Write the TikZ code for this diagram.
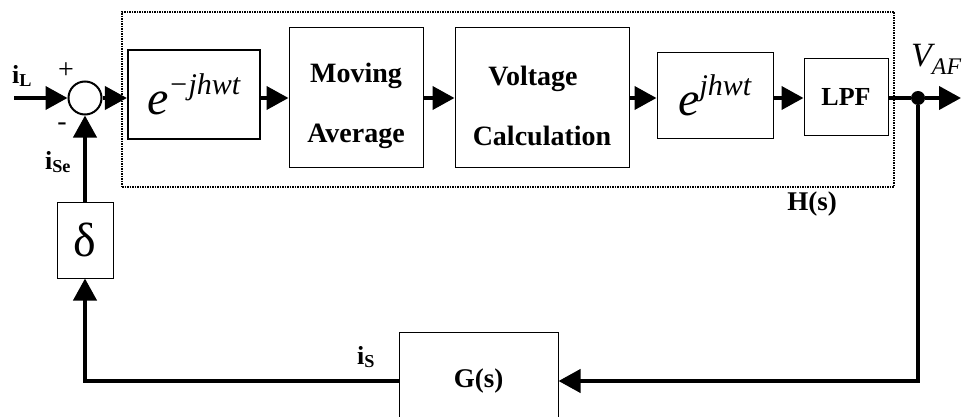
\documentclass[tikz,border=0pt]{standalone}
\usepackage{fontspec}
\setmainfont{Liberation Serif}
\usetikzlibrary{arrows.meta}

\tikzset{
  blk/.style={draw, line width=1pt, inner sep=0pt},
  sig/.style={line width=4pt, -{Triangle[length=22pt,width=23pt]}},
  wire/.style={line width=4pt},
  lbl/.style={inner sep=0pt, font=\fontsize{26}{26}\selectfont},
  bigtxt/.style={font=\fontsize{28}{60}\selectfont\bfseries, align=center},
}
\newcommand{\expo}[1]{\fontsize{48}{48}\selectfont\textit{e}\raisebox{20pt}{\fontsize{30}{30}\selectfont\textit{#1}}}

\begin{document}
\begin{tikzpicture}[x=1pt, y=-1pt]
  \useasboundingbox (0,0) rectangle (965,417);
  % H(s) frame
  \node[draw, dash pattern=on 1.5pt off 1pt, line width=1.8pt, minimum width=772pt, minimum height=175pt] (hframe) at (508,99.5) {};
  \node[lbl, font=\fontsize{27}{27}\selectfont\bfseries] (hlab) at (812,204) {H(s)};

  % summing point and forward path
  \node[circle, draw, line width=2pt, minimum size=33pt, inner sep=0pt] (sum) at (85,98) {};
  \node[blk, line width=2.2pt, minimum width=132pt, minimum height=89pt] (demod) at (194,94.5) {\expo{\symbol{"2212}jhwt}};
  \node[blk, bigtxt, minimum width=134pt, minimum height=139pt] (mavg) at (356,97.5) {\rule{0pt}{36pt}Moving\\Average};
  \node[blk, bigtxt, minimum width=174pt, minimum height=139pt] (vcalc) at (542,97.5) {\rule{0pt}{36pt}Voltage\hspace*{18pt}\\Calculation};
  \node[blk, minimum width=116pt, minimum height=85pt] (mod) at (715,95.5) {\expo{jhwt}};
  \node[blk, minimum width=84pt, minimum height=76pt, font=\fontsize{26}{26}\selectfont\bfseries] (lpf) at (846,97) {LPF};
  \node[circle, fill, inner sep=0pt, minimum size=14pt] (tap) at (918,98) {};

  % feedback path
  \node[blk, minimum width=56pt, minimum height=76pt, font=\fontsize{48}{48}\selectfont] (delta) at (85,240) {\symbol{"03B4}};
  \node[blk, minimum width=159pt, minimum height=98pt, font=\fontsize{27}{27}\selectfont\bfseries] (gs) at (478.5,381) {\raisebox{4pt}{G(s)}};

  \coordinate (iin) at (14,98);
  \coordinate (vout) at (961,98);

  % signals
  \draw[sig] (iin) -- (sum.west);
  \draw[sig] (sum.east) -- (sum.east -| demod.west);
  \foreach \a/\b in {demod/mavg, mavg/vcalc, vcalc/mod, mod/lpf}
    \draw[sig] (\a.east |- sum) -- (\b.west |- sum);
  \draw[wire] (lpf.east |- sum) -- (tap);
  \draw[sig] (tap) -- (vout);
  \draw[sig] (tap) |- (gs.east);
  \draw[sig] (gs.west) -| (delta.south);
  \draw[sig] (delta.north) -- (sum.south);

  % labels
  \node[lbl] (il) at (22,76) {$\mathbf{i}_{\mathbf{L}}$};
  \node[lbl, font=\fontsize{28}{28}\selectfont] (plus) at (66,71) {+};
  \node[lbl, font=\fontsize{28}{28}\selectfont] (minus) at (62,127) {-};
  \node[lbl] (ise) at (58,162) {$\mathbf{i}_{\mathbf{Se}}$};
  \node[lbl] (is) at (366,357) {$\mathbf{i}_{\mathbf{S}}$};
  \node[lbl, font=\fontsize{34}{34}\selectfont, anchor=base west] (vaf) at (911,67) {$\mathit{V}_{\mathit{AF}}$};
\end{tikzpicture}
\end{document}
